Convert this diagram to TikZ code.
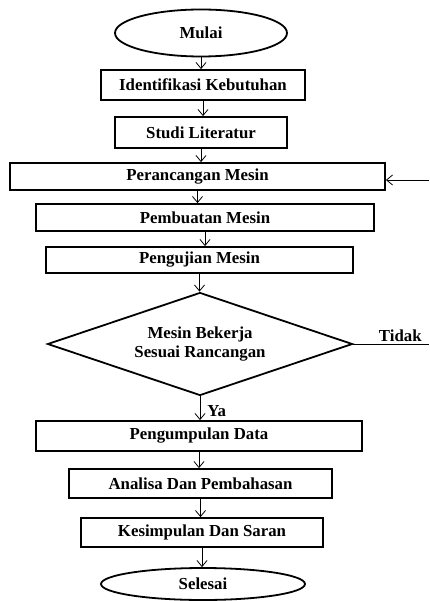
\documentclass[tikz,border=0pt]{standalone}
\usepackage{fontspec}
\setmainfont{Liberation Serif}
\usetikzlibrary{shapes}
\usetikzlibrary{arrows.meta}

\begin{document}
\begin{tikzpicture}
[x=1pt,y=-1pt,%
  lineDecorate/.style={-{Straight Barb[length=6pt,width=10pt]},line width=0.8pt},%
  plainDecorate/.style={-,line width=0.8pt},%
  nodeDecorate/.style={shape=rectangle,draw,line width=1.8pt,inner sep=0pt,font=\fontsize{16.8}{19}\selectfont\bfseries},%
  termDecorate/.style={nodeDecorate,shape=ellipse},%
  decideDecorate/.style={nodeDecorate,shape=diamond,shape aspect=3,align=center},%
  labelDecorate/.style={font=\fontsize{16.8}{19}\selectfont\bfseries,inner sep=2pt}]
\useasboundingbox (0,0) rectangle (429,601);
%% start and end
\node[termDecorate,minimum width=172pt,minimum height=47pt] (mulai) at (201,33) {Mulai};
\node[termDecorate,minimum width=204pt,minimum height=32pt] (selesai) at (203,584) {Selesai};
%% process boxes
\foreach \nodename/\x/\y/\w/\h/\txt in {
  ident/203/85/204/30/Identifikasi Kebutuhan,
  studi/201/132.5/172/31/Studi Literatur,
  rancang/197.5/176.5/375/27/Perancangan Mesin,
  buat/205/217.5/338/27/Pembuatan Mesin,
  uji/199.5/260/307/26/Pengujian Mesin,
  kumpul/199/436/326/30/Pengumpulan Data,
  analisa/200.5/483.5/263/29/Analisa Dan Pembahasan,
  simpul/202/532.5/242/29/Kesimpulan Dan Saran}
{
  \node[nodeDecorate,minimum width=\w pt,minimum height=\h pt] (\nodename) at (\x,\y) {\txt};
}
%% decision
\node[decideDecorate,minimum width=305pt,minimum height=103pt] (cek) at (200,344)
  {Mesin Bekerja\\Sesuai Rancangan};
%% connect nodes
\foreach \a/\b in {mulai/ident, ident/studi, studi/rancang, rancang/buat,
  buat/uji, uji/cek, kumpul/analisa, analisa/simpul, simpul/selesai}
{
  \draw[lineDecorate] (\a.south) -- (\a.south |- \b.north);
}
\draw[lineDecorate] (cek.south) -- (cek.south |- kumpul.north)
  node[labelDecorate,pos=0.62,right,xshift=5pt] {Ya};
%% loop back
\coordinate (tidakEnd) at (429,344);
\coordinate (balik) at (429,180);
\draw[plainDecorate] (cek.east) -- (tidakEnd)
  node[labelDecorate,pos=0.62,above] {Tidak};
\draw[lineDecorate] (balik) -- (balik -| rancang.east);
\end{tikzpicture}
\end{document}
